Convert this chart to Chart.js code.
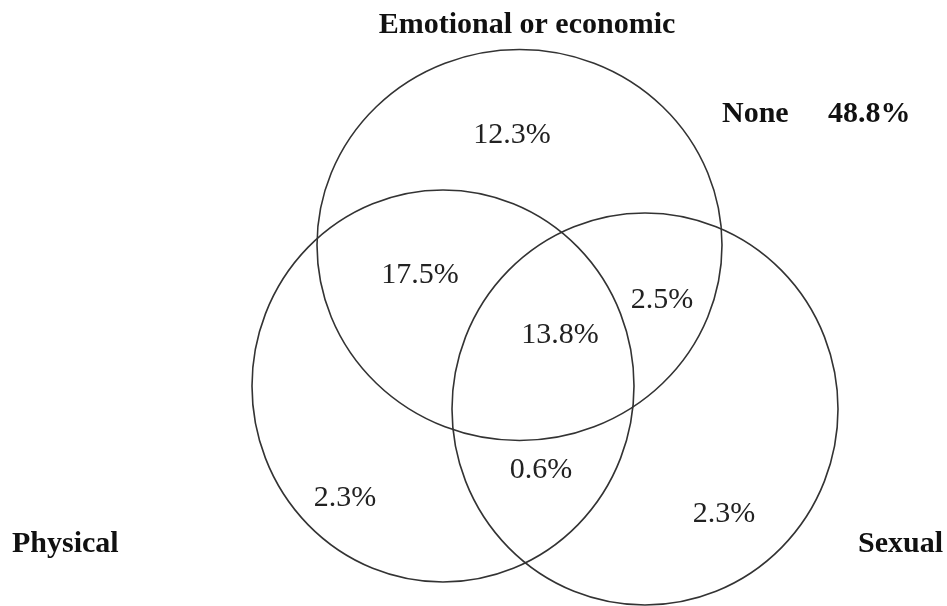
<!DOCTYPE html>
<html>
<head>
<meta charset="utf-8">
<title>Venn diagram</title>
<script src="https://cdn.jsdelivr.net/npm/chart.js@4.4.1/dist/chart.umd.min.js"></script>
<style>
  html, body { margin: 0; padding: 0; background: #fff; }
  #wrap { width: 947px; height: 606px; }
</style>
</head>
<body>
<div id="wrap"><canvas id="venn" width="947" height="606"></canvas></div>
<script>
// Set names and the share of women in each region (%)
const setNames = ['Emotional or economic', 'Physical', 'Sexual'];
const regionNames = ['Emotional only', 'Emotional + Physical', 'All three', 'Emotional + Sexual',
                     'Physical only', 'Physical + Sexual', 'Sexual only'];
const regionValues = [12.3, 17.5, 13.8, 2.5, 2.3, 0.6, 2.3];
const noneLabel = 'None';
const noneValue = 48.8;

// Diagram layout in plot units (x 0..947, y 0..606 downwards)
const LAYOUT = {
    circles: [
        { cx: 519.5, cy: 245, rx: 202.5, ry: 195.5 },
        { cx: 443, cy: 386, rx: 191, ry: 196 },
        { cx: 645, cy: 409, rx: 193, ry: 196 }
    ],
    setLabels: [
        { x: 527, y: 33, align: 'center' },
        { x: 12, y: 552, align: 'left' },
        { x: 943, y: 552, align: 'right' }
    ],
    regions: [
        { x: 512, y: 143 },
        { x: 420, y: 283 },
        { x: 560, y: 343 },
        { x: 662, y: 308 },
        { x: 345, y: 506 },
        { x: 541, y: 478 },
        { x: 724, y: 522 }
    ],
    none: { x: 722, y: 122, valueX: 828 }
};

const FONT = '"Liberation Serif", "Times New Roman", serif';

const vennPlugin = {
    id: 'venn',
    afterDatasetsDraw(chart) {
        const { ctx, scales: { x, y } } = chart;
        ctx.save();

        // circles
        ctx.strokeStyle = '#333';
        ctx.lineWidth = 1.6;
        LAYOUT.circles.forEach(c => {
            const px = x.getPixelForValue(c.cx);
            const py = y.getPixelForValue(c.cy);
            const rx = Math.abs(x.getPixelForValue(c.cx + c.rx) - px);
            const ry = Math.abs(y.getPixelForValue(c.cy + c.ry) - py);
            ctx.beginPath();
            ctx.ellipse(px, py, rx, ry, 0, 0, Math.PI * 2);
            ctx.stroke();
        });

        ctx.fillStyle = '#111';
        ctx.textBaseline = 'alphabetic';

        // set names
        ctx.font = 'bold 30px ' + FONT;
        setNames.forEach((name, i) => {
            const p = LAYOUT.setLabels[i];
            ctx.textAlign = p.align;
            ctx.fillText(name, x.getPixelForValue(p.x), y.getPixelForValue(p.y));
        });

        // none
        ctx.textAlign = 'left';
        ctx.fillText(noneLabel, x.getPixelForValue(LAYOUT.none.x), y.getPixelForValue(LAYOUT.none.y));
        ctx.fillText(noneValue.toFixed(1) + '%', x.getPixelForValue(LAYOUT.none.valueX), y.getPixelForValue(LAYOUT.none.y));

        // region values
        ctx.font = '30px ' + FONT;
        ctx.fillStyle = '#222';
        ctx.textAlign = 'center';
        regionValues.forEach((v, i) => {
            const p = LAYOUT.regions[i];
            ctx.fillText(v.toFixed(1) + '%', x.getPixelForValue(p.x), y.getPixelForValue(p.y));
        });

        ctx.restore();
    }
};

new Chart(document.getElementById('venn'), {
    type: 'scatter',
    data: {
        datasets: setNames.map((name, i) => ({
            label: name,
            data: [{ x: LAYOUT.circles[i].cx, y: LAYOUT.circles[i].cy }],
            pointRadius: 0
        }))
    },
    options: {
        responsive: false,
        animation: false,
        devicePixelRatio: 1,
        layout: { padding: 0 },
        scales: {
            x: { type: 'linear', min: 0, max: 947, display: false },
            y: { type: 'linear', min: 0, max: 606, reverse: true, display: false }
        },
        plugins: {
            legend: { display: false },
            tooltip: { enabled: false }
        }
    },
    plugins: [vennPlugin]
});
</script>
</body>
</html>
